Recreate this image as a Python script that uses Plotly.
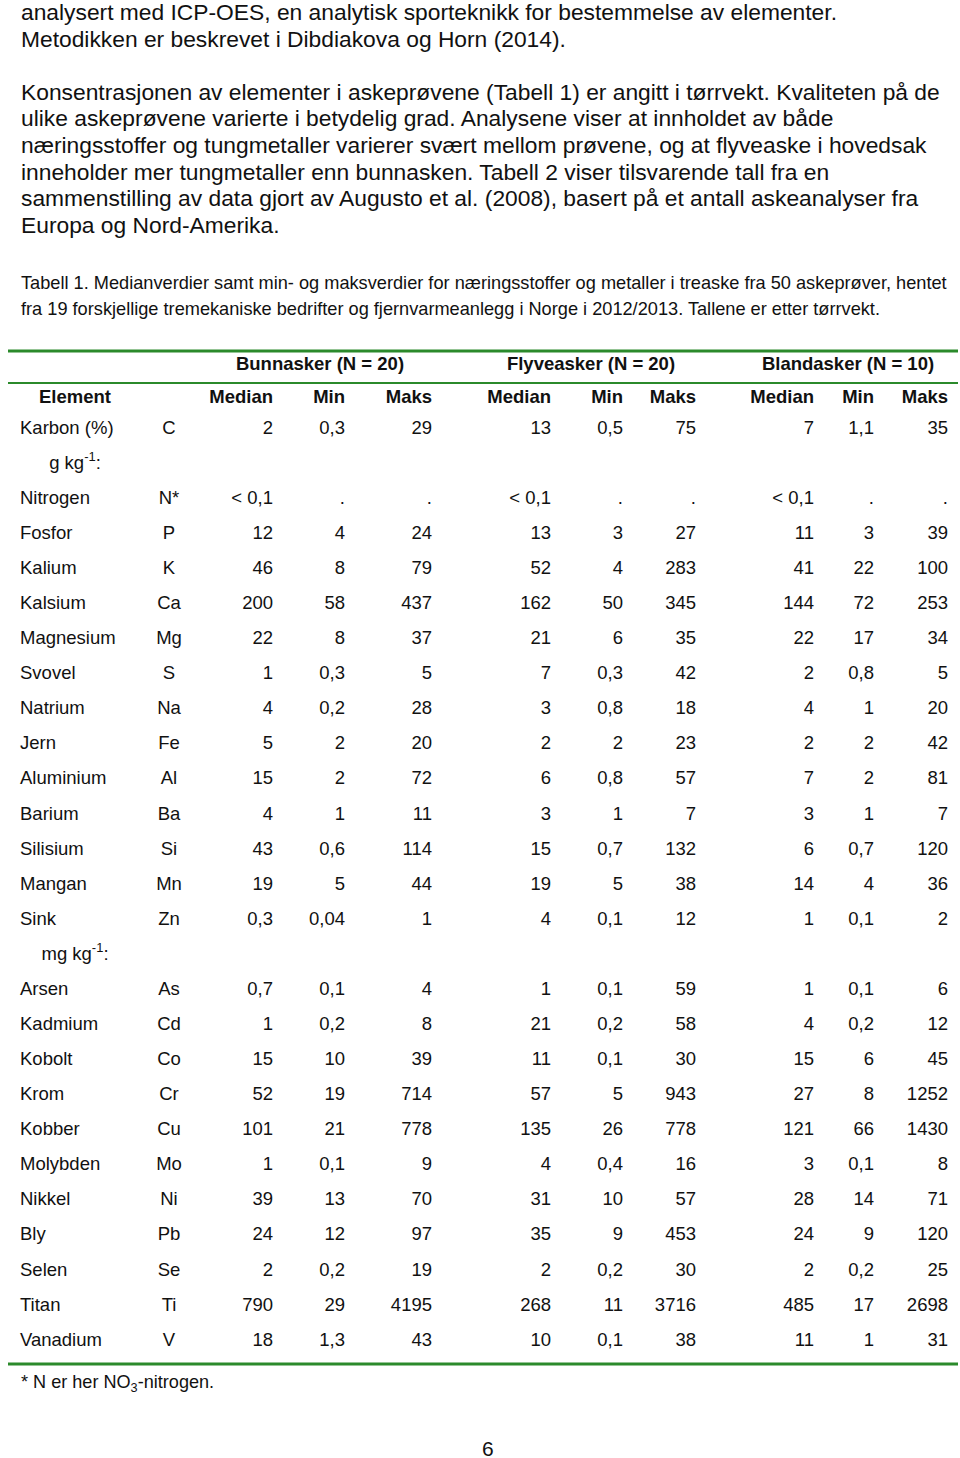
import plotly.graph_objects as go

# ---------------- data ----------------
body_lines = [
    "analysert med ICP-OES, en analytisk sporteknikk for bestemmelse av elementer.",
    "Metodikken er beskrevet i Dibdiakova og Horn (2014).",
    "",
    "Konsentrasjonen av elementer i askeprøvene (Tabell 1) er angitt i tørrvekt. Kvaliteten på de",
    "ulike askeprøvene varierte i betydelig grad. Analysene viser at innholdet av både",
    "næringsstoffer og tungmetaller varierer svært mellom prøvene, og at flyveaske i hovedsak",
    "inneholder mer tungmetaller enn bunnasken. Tabell 2 viser tilsvarende tall fra en",
    "sammenstilling av data gjort av Augusto et al. (2008), basert på et antall askeanalyser fra",
    "Europa og Nord-Amerika.",
]
caption_lines = [
    "Tabell 1. Medianverdier samt min- og maksverdier for næringsstoffer og metaller i treaske fra 50 askeprøver, hentet",
    "fra 19 forskjellige tremekaniske bedrifter og fjernvarmeanlegg i Norge i 2012/2013. Tallene er etter tørrvekt.",
]
groups = ["Bunnasker (N = 20)", "Flyveasker (N = 20)", "Blandasker (N = 10)"]
stat_labels = ["Median", "Min", "Maks"]

names = ["Karbon (%)", "Nitrogen", "Fosfor", "Kalium", "Kalsium", "Magnesium", "Svovel",
         "Natrium", "Jern", "Aluminium", "Barium", "Silisium", "Mangan", "Sink",
         "Arsen", "Kadmium", "Kobolt", "Krom", "Kobber", "Molybden", "Nikkel", "Bly",
         "Selen", "Titan", "Vanadium"]
symbols = ["C", "N*", "P", "K", "Ca", "Mg", "S", "Na", "Fe", "Al", "Ba", "Si", "Mn", "Zn",
           "As", "Cd", "Co", "Cr", "Cu", "Mo", "Ni", "Pb", "Se", "Ti", "V"]
# table row slot of each element (slots 1 and 15 hold unit labels)
row_slots = [0] + list(range(2, 15)) + list(range(16, 27))
unit_labels = ["g kg<sup>-1</sup>:", "mg kg<sup>-1</sup>:"]
unit_slots = [1, 15]

bunn_median = ["2", "< 0,1", "12", "46", "200", "22", "1", "4", "5", "15", "4", "43", "19", "0,3",
               "0,7", "1", "15", "52", "101", "1", "39", "24", "2", "790", "18"]
bunn_min = ["0,3", ".", "4", "8", "58", "8", "0,3", "0,2", "2", "2", "1", "0,6", "5", "0,04",
            "0,1", "0,2", "10", "19", "21", "0,1", "13", "12", "0,2", "29", "1,3"]
bunn_maks = ["29", ".", "24", "79", "437", "37", "5", "28", "20", "72", "11", "114", "44", "1",
             "4", "8", "39", "714", "778", "9", "70", "97", "19", "4195", "43"]
fly_median = ["13", "< 0,1", "13", "52", "162", "21", "7", "3", "2", "6", "3", "15", "19", "4",
              "1", "21", "11", "57", "135", "4", "31", "35", "2", "268", "10"]
fly_min = ["0,5", ".", "3", "4", "50", "6", "0,3", "0,8", "2", "0,8", "1", "0,7", "5", "0,1",
           "0,1", "0,2", "0,1", "5", "26", "0,4", "10", "9", "0,2", "11", "0,1"]
fly_maks = ["75", ".", "27", "283", "345", "35", "42", "18", "23", "57", "7", "132", "38", "12",
            "59", "58", "30", "943", "778", "16", "57", "453", "30", "3716", "38"]
bland_median = ["7", "< 0,1", "11", "41", "144", "22", "2", "4", "2", "7", "3", "6", "14", "1",
                "1", "4", "15", "27", "121", "3", "28", "24", "2", "485", "11"]
bland_min = ["1,1", ".", "3", "22", "72", "17", "0,8", "1", "2", "2", "1", "0,7", "4", "0,1",
             "0,1", "0,2", "6", "8", "66", "0,1", "14", "9", "0,2", "17", "1"]
bland_maks = ["35", ".", "39", "100", "253", "34", "5", "20", "42", "81", "7", "120", "36", "2",
              "6", "12", "45", "1252", "1430", "8", "71", "120", "25", "2698", "31"]
footnote = "* N er her NO<sub>3</sub>-nitrogen."
page_number = "6"

# ---------------- layout geometry ----------------
W, H = 960, 1458
FONT = "Liberation Sans, Arial, Helvetica, sans-serif"
INK = "#111111"
GREEN = "#2b8a2b"

body_y0, body_dy = 12, 26.6
cap_y0, cap_dy = 282.5, 26
row_y0, row_dy = 427, 35.08
group_y, head_y = 363, 396
text_dy = 2          # vertical nudge so scatter text centres match the rows
name_x, sym_x, elem_x = 20, 169, 75
value_cols = [273, 345, 432, 551, 623, 696, 814, 874, 948]
group_x = [320, 591, 848]
table_fs = 18.5

def row_y(slot):
    return row_y0 + slot * row_dy

fig = go.Figure()

def text_trace(xs, ys, texts, pos, size=table_fs, bold=False):
    fig.add_trace(go.Scatter(
        x=xs, y=[v + text_dy for v in ys], text=texts, mode="text", textposition=pos,
        textfont=dict(family=FONT, size=size, color=INK,
                      weight="bold" if bold else "normal"),
        hoverinfo="skip", showlegend=False, cliponaxis=False))

ys_el = [row_y(s) for s in row_slots]
text_trace([name_x] * len(names), ys_el, names, "middle right")
text_trace([sym_x] * len(symbols), ys_el, symbols, "middle center")
text_trace([elem_x] * 2, [row_y(s) for s in unit_slots], unit_labels, "middle center")

columns = [bunn_median, bunn_min, bunn_maks, fly_median, fly_min, fly_maks,
           bland_median, bland_min, bland_maks]
for cx, col in zip(value_cols, columns):
    text_trace([cx] * len(col), ys_el, col, "middle left")

# headers
text_trace(group_x, [group_y] * 3, groups, "middle center", bold=True)
text_trace([elem_x], [head_y], ["Element"], "middle center", bold=True)
text_trace(value_cols, [head_y] * 9, stat_labels * 3, "middle left", bold=True)

# body text & caption as annotations
anns = []
for i, t in enumerate(body_lines):
    if t:
        anns.append(dict(x=20, y=body_y0 + i * body_dy, text=t, xref="x", yref="y",
                         xanchor="left", yanchor="middle", showarrow=False,
                         borderpad=0, font=dict(family=FONT, size=22.8, color=INK)))
for i, t in enumerate(caption_lines):
    anns.append(dict(x=20, y=cap_y0 + i * cap_dy, text=t, xref="x", yref="y",
                     xanchor="left", yanchor="middle", showarrow=False,
                     borderpad=0, font=dict(family=FONT, size=18.2, color=INK)))
anns.append(dict(x=20, y=row_y(26) + 44, text=footnote, xref="x", yref="y",
                 xanchor="left", yanchor="middle", showarrow=False, borderpad=0,
                 font=dict(family=FONT, size=18.1, color=INK)))
anns.append(dict(x=488, y=1448, text=page_number, xref="x", yref="y",
                 xanchor="center", yanchor="middle", showarrow=False, borderpad=0,
                 font=dict(family=FONT, size=21, color=INK)))

# green rules
shapes = [
    dict(type="line", xref="x", yref="y", x0=8, x1=958, y0=group_y - 12, y1=group_y - 12,
         line=dict(color=GREEN, width=3)),
    dict(type="line", xref="x", yref="y", x0=8, x1=958, y0=group_y + 20, y1=group_y + 20,
         line=dict(color=GREEN, width=2)),
    dict(type="line", xref="x", yref="y", x0=8, x1=958, y0=row_y(26) + 25, y1=row_y(26) + 25,
         line=dict(color=GREEN, width=3)),
]

fig.update_layout(
    width=W, height=H, margin=dict(l=0, r=0, t=0, b=0),
    paper_bgcolor="white", plot_bgcolor="white",
    xaxis=dict(range=[0, W], visible=False, fixedrange=True),
    yaxis=dict(range=[H, 0], visible=False, fixedrange=True),
    annotations=anns, shapes=shapes,
)
fig.write_html("out.html", config={"displayModeBar": False},
               post_script="document.body.style.margin='0';")
